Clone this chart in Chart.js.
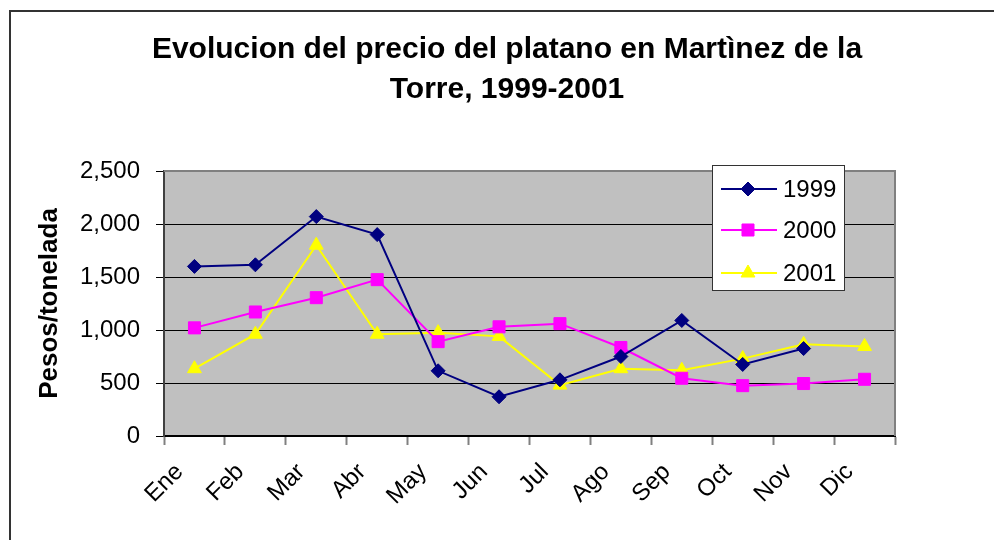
<!DOCTYPE html>
<html>
<head>
<meta charset="utf-8">
<script src="https://cdn.jsdelivr.net/npm/chart.js@4.4.0/dist/chart.umd.min.js"></script>
<style>
    html, body { margin: 0; padding: 0; background: #fff; }
</style>
</head>
<body>
<canvas id="priceChart" width="994" height="540"></canvas>
<script>
// data
const months = ['Ene', 'Feb', 'Mar', 'Abr', 'May', 'Jun', 'Jul', 'Ago', 'Sep', 'Oct', 'Nov', 'Dic'];
const yTicks = [0, 500, 1000, 1500, 2000, 2500];
const seriesNames = ['1999', '2000', '2001'];
const precio1999 = [1600, 1615, 2070, 1900, 615, 370, 530, 750, 1090, 675, 825, null];
const precio2000 = [1020, 1170, 1305, 1475, 890, 1030, 1060, 835, 545, 475, 495, 535];
const precio2001 = [635, 960, 1800, 960, 975, 940, 480, 635, 620, 730, 865, 845];

const FONT = "'Liberation Sans', Arial, sans-serif";

// white sheet, frame and grey plot area
const backdrop = {
    id: 'backdrop',
    beforeDraw(chart) {
        const ctx = chart.ctx;
        const a = chart.chartArea;
        ctx.save();
        ctx.fillStyle = '#fff';
        ctx.fillRect(0, 0, chart.width, chart.height);
        ctx.strokeStyle = '#333';
        ctx.lineWidth = 2;
        ctx.beginPath();
        ctx.moveTo(10, chart.height);
        ctx.lineTo(10, 11);
        ctx.lineTo(chart.width, 11);
        ctx.stroke();
        ctx.fillStyle = '#C0C0C0';
        ctx.fillRect(a.left, a.top, a.right - a.left, a.bottom - a.top);
        ctx.restore();
    },
    beforeDatasetsDraw(chart) {
        const ctx = chart.ctx;
        const a = chart.chartArea;
        ctx.save();
        ctx.strokeStyle = '#808080';
        ctx.lineWidth = 2;
        ctx.beginPath();
        ctx.moveTo(a.left, a.top);
        ctx.lineTo(a.right, a.top);
        ctx.lineTo(a.right, a.bottom);
        ctx.stroke();
        ctx.restore();
    }
};

// legend box inside the plot, like the original
const boxLegend = {
    id: 'boxLegend',
    afterDraw(chart) {
        const ctx = chart.ctx;
        const left = 712, top = 165, w = 132, h = 125;
        const rows = [189, 230, 273];
        ctx.save();
        ctx.fillStyle = '#fff';
        ctx.fillRect(left, top, w, h);
        ctx.strokeStyle = '#333';
        ctx.lineWidth = 1;
        ctx.strokeRect(left + 0.5, top + 0.5, w, h);
        chart.data.datasets.forEach((ds, i) => {
            const y = rows[i];
            ctx.strokeStyle = ds.borderColor;
            ctx.lineWidth = 2;
            ctx.beginPath();
            ctx.moveTo(721, y);
            ctx.lineTo(777, y);
            ctx.stroke();
            ctx.fillStyle = ds.pointBackgroundColor;
            ctx.strokeStyle = ds.borderColor;
            ctx.lineWidth = 1;
            Chart.helpers.drawPoint(ctx, {
                pointStyle: ds.pointStyle,
                radius: ds.pointRadius,
                rotation: 0,
                borderWidth: 1
            }, 748, y);
            ctx.fillStyle = '#000';
            ctx.font = '24px ' + FONT;
            ctx.textAlign = 'left';
            ctx.textBaseline = 'middle';
            ctx.fillText(ds.label, 783, y + 1);
        });
        ctx.restore();
    }
};

function makeSeries(label, values, color, style, radius) {
    return {
        label: label,
        data: values,
        borderColor: color,
        backgroundColor: color,
        pointBackgroundColor: color,
        pointBorderColor: color,
        pointStyle: style,
        pointRadius: radius,
        pointHoverRadius: radius,
        pointBorderWidth: 1,
        borderWidth: 2,
        tension: 0,
        fill: false
    };
}

const ctx = document.getElementById('priceChart').getContext('2d');
new Chart(ctx, {
    type: 'line',
    data: {
        labels: months,
        datasets: [
            makeSeries(seriesNames[0], precio1999, '#000080', 'rectRot', 7),
            makeSeries(seriesNames[1], precio2000, '#FF00FF', 'rect', 8.5),
            makeSeries(seriesNames[2], precio2001, '#FFFF00', 'triangle', 8)
        ]
    },
    options: {
        responsive: false,
        animation: false,
        devicePixelRatio: 1,
        layout: {
            padding: { left: 20, top: 10, right: 0, bottom: 0 }
        },
        plugins: {
            legend: { display: false },
            tooltip: { enabled: false },
            title: {
                display: true,
                text: ['Evolucion del precio del platano en Martìnez de la', 'Torre, 1999-2001'],
                color: '#000',
                font: { family: FONT, size: 30, weight: 'bold', lineHeight: 40 / 30 },
                padding: { top: 20, bottom: 61 }
            }
        },
        scales: {
            x: {
                offset: true,
                afterFit(scale) { scale.height = 104; },
                grid: {
                    offset: true,
                    drawOnChartArea: false,
                    tickLength: 9,
                    tickColor: '#808080',
                    tickWidth: 2
                },
                border: { color: '#000', width: 2 },
                ticks: {
                    autoSkip: false,
                    minRotation: 45,
                    maxRotation: 45,
                    padding: 13,
                    labelOffset: -15,
                    color: '#000',
                    font: { family: FONT, size: 24 }
                }
            },
            y: {
                min: yTicks[0],
                max: yTicks[yTicks.length - 1],
                afterFit(scale) { scale.width = 144; },
                afterBuildTicks(scale) {
                    scale.ticks = yTicks.map(v => ({ value: v }));
                },
                grid: {
                    color: c => (c.tick && c.tick.value === yTicks[yTicks.length - 1]) ? 'rgba(0,0,0,0)' : '#000',
                    lineWidth: 1,
                    tickLength: 8,
                    tickColor: '#000'
                },
                border: { color: '#404040', width: 2 },
                ticks: {
                    padding: 16,
                    color: '#000',
                    font: { family: FONT, size: 24 },
                    callback: v => v.toLocaleString('en-US')
                },
                title: {
                    display: true,
                    text: 'Pesos/tonelada',
                    color: '#000',
                    font: { family: FONT, size: 26, weight: 'bold' },
                    padding: { top: 14, bottom: 0 }
                }
            },
            // empty spacer on the right so the title stays centred on the sheet
            spacer: {
                type: 'linear',
                position: 'right',
                display: true,
                afterFit(scale) { scale.width = 99; },
                grid: { display: false, drawTicks: false },
                border: { display: false },
                ticks: { display: false }
            }
        }
    },
    plugins: [backdrop, boxLegend]
});
</script>
</body>
</html>
